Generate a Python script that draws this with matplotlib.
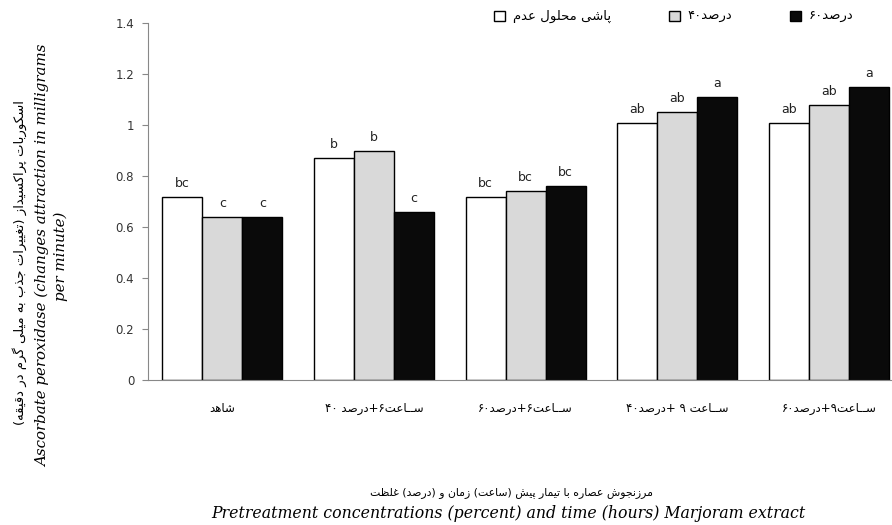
import numpy as np
import matplotlib
matplotlib.use("Agg")
import matplotlib.pyplot as plt
from matplotlib.patches import Patch

# isolated, final, initial, medial presentation forms
FORMS = {
    "ا": ("\uFE8D", "\uFE8E", None, None),
    "ب": ("\uFE8F", "\uFE90", "\uFE91", "\uFE92"),
    "پ": ("\uFB56", "\uFB57", "\uFB58", "\uFB59"),
    "ت": ("\uFE95", "\uFE96", "\uFE97", "\uFE98"),
    "ج": ("\uFE9D", "\uFE9E", "\uFE9F", "\uFEA0"),
    "ح": ("\uFEA1", "\uFEA2", "\uFEA3", "\uFEA4"),
    "د": ("\uFEA9", "\uFEAA", None, None),
    "ذ": ("\uFEAB", "\uFEAC", None, None),
    "ر": ("\uFEAD", "\uFEAE", None, None),
    "ز": ("\uFEAF", "\uFEB0", None, None),
    "س": ("\uFEB1", "\uFEB2", "\uFEB3", "\uFEB4"),
    "ش": ("\uFEB5", "\uFEB6", "\uFEB7", "\uFEB8"),
    "ص": ("\uFEB9", "\uFEBA", "\uFEBB", "\uFEBC"),
    "ظ": ("\uFEC5", "\uFEC6", "\uFEC7", "\uFEC8"),
    "ع": ("\uFEC9", "\uFECA", "\uFECB", "\uFECC"),
    "غ": ("\uFECD", "\uFECE", "\uFECF", "\uFED0"),
    "ق": ("\uFED5", "\uFED6", "\uFED7", "\uFED8"),
    "ک": ("\uFB8E", "\uFB8F", "\uFB90", "\uFB91"),
    "گ": ("\uFB92", "\uFB93", "\uFB94", "\uFB95"),
    "ل": ("\uFEDD", "\uFEDE", "\uFEDF", "\uFEE0"),
    "م": ("\uFEE1", "\uFEE2", "\uFEE3", "\uFEE4"),
    "ن": ("\uFEE5", "\uFEE6", "\uFEE7", "\uFEE8"),
    "و": ("\uFEED", "\uFEEE", None, None),
    "ه": ("\uFEE9", "\uFEEA", "\uFEEB", "\uFEEC"),
    "ی": ("\uFBFC", "\uFBFD", "\uFBFE", "\uFBFF"),
    "ـ": ("ـ", "ـ", "ـ", "ـ"),
}
MIRROR = {"(": ")", ")": "("}


def dual(c):
    return c in FORMS and FORMS[c][2] is not None


def shape(s):
    out = []
    for i, c in enumerate(s):
        if c not in FORMS:
            out.append(c)
            continue
        prev_j = i > 0 and dual(s[i - 1])
        next_j = i + 1 < len(s) and s[i + 1] in FORMS and dual(c)
        iso, fin, ini, med = FORMS[c]
        if prev_j and next_j:
            out.append(med)
        elif prev_j:
            out.append(fin)
        elif next_j:
            out.append(ini)
        else:
            out.append(iso)
    return out


def fa_rtl(s):
    # full right-to-left line
    g = shape(s)[::-1]
    return "".join(MIRROR.get(c, c) for c in g)


def fa_runs(s):
    # words kept in typed order, letters of each word drawn right-to-left
    g = shape(s)
    res, run = [], []
    for orig, c in zip(s, g):
        if orig in FORMS:
            run.append(c)
        else:
            res.extend(run[::-1])
            run = []
            res.append(c)
    res.extend(run[::-1])
    return "".join(res)


groups = ["شاهد", "۴۰ درصد+۶ســاعت", "۶۰درصد+۶ســاعت",
          "۴۰درصد+ ۹ ســاعت", "۶۰درصد+۹ســاعت"]
series = ["عدم محلول پاشی", "۴۰درصد", "۶۰درصد"]
control = [0.72, 0.87, 0.72, 1.01, 1.01]
pct40 = [0.64, 0.90, 0.74, 1.05, 1.08]
pct60 = [0.64, 0.66, 0.76, 1.11, 1.15]
letters_control = ["bc", "b", "bc", "ab", "ab"]
letters_40 = ["c", "b", "bc", "ab", "ab"]
letters_60 = ["c", "c", "bc", "a", "a"]

colors = ["white", "#d9d9d9", "#0a0a0a"]

fig = plt.figure(figsize=(8.92, 5.25), dpi=100)
ax = fig.add_axes([0.166, 0.276, 0.833, 0.680])

x = np.arange(len(groups))
w = 0.264
data = [control, pct40, pct60]
letters = [letters_control, letters_40, letters_60]
for k in range(3):
    bars = ax.bar(x + (k - 1) * w, data[k], w, color=colors[k],
                  edgecolor="black", linewidth=1.0)
    ax.bar_label(bars, labels=letters[k], padding=5, fontsize=9,
                 family="DejaVu Sans", color="#222222")

ax.set_ylim(0, 1.4)
ax.set_yticks(np.arange(0, 1.41, 0.2))
ax.set_yticklabels(["0", "0.2", "0.4", "0.6", "0.8", "1", "1.2", "1.4"])
ax.set_xlim(-0.49, 4.41)
ax.set_xticks(x)
ax.set_xticklabels([fa_runs(g) for g in groups], fontsize=8.5,
                   family="DejaVu Sans")
ax.tick_params(axis="x", length=0, pad=16)
ax.tick_params(axis="y", length=4, color="#888888", labelsize=8.5,
               labelcolor="#333333", pad=6)
for side in ["top", "right"]:
    ax.spines[side].set_visible(False)
for side in ["left", "bottom"]:
    ax.spines[side].set_color("#888888")

handles = [Patch(facecolor=c, edgecolor="black", linewidth=1.0) for c in colors]
fig.legend(handles, [fa_runs(s) for s in series], ncol=3, frameon=False,
           loc="center left", bbox_to_anchor=(0.541, 0.968),
           handlelength=0.8, handleheight=0.8, handletextpad=0.6,
           columnspacing=4.4, prop={"family": "DejaVu Sans", "size": 9.5})

# axis titles: Persian line plus English line
fig.text(0.022, 0.50, fa_rtl("اسکوربات پراکسیداز (تغییرات جذب به میلی گرم در دقیقه)"),
         rotation=90, ha="center", va="center", fontsize=9.5, family="DejaVu Sans")
fig.text(0.058, 0.512, "Ascorbate peroxidase (changes attraction in milligrams\nper minute)",
         rotation=90, ha="center", va="center", fontsize=10.8,
         family="DejaVu Serif", style="italic", linespacing=1.25)
fig.text(0.573, 0.061, fa_runs("غلظت (درصد) و زمان (ساعت) پیش تیمار با عصاره مرزنجوش"),
         ha="center", va="center", fontsize=7.8, family="DejaVu Sans")
fig.text(0.5695, 0.022, "Pretreatment concentrations (percent) and time (hours) Marjoram extract",
         ha="center", va="center", fontsize=11.3, family="DejaVu Serif", style="italic")

fig.savefig("out.png", dpi=100)
